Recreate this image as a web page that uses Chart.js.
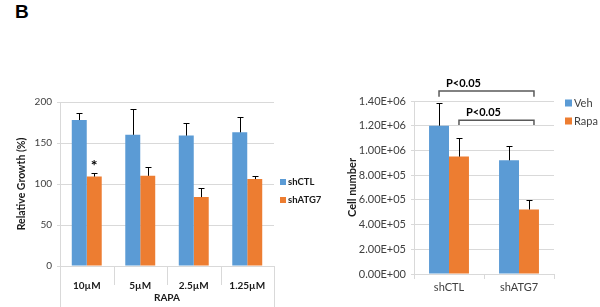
<!DOCTYPE html>
<html>
<head>
<meta charset="utf-8">
<script src="https://cdn.jsdelivr.net/npm/chart.js@4/dist/chart.umd.min.js"></script>
<style>
  html, body { margin: 0; padding: 0; background: #fff; }
  body { width: 600px; height: 307px; position: relative; overflow: hidden; font-family: Lato, sans-serif; }
  #panel-label { position: absolute; left: 15px; top: 1px; font: bold 19px Arial, "Liberation Sans", sans-serif; color: #000; }
  .box { position: absolute; top: 0; height: 307px; }
  #left-box { left: 0; width: 330px; }
  #right-box { left: 300px; width: 300px; }
</style>
</head>
<body>
<div id="panel-label">B</div>
<div class="box" id="left-box"><canvas id="growth-chart" width="330" height="307"></canvas></div>
<div class="box" id="right-box"><canvas id="cell-chart" width="300" height="307"></canvas></div>
<script>
'use strict';

// ---- Panel 1: relative growth under rapamycin ----
const rapaDoses       = ['10µM', '5µM', '2.5µM', '1.25µM'];
const growthSeries    = ['shCTL', 'shATG7'];
const shCTLGrowth     = [178, 160, 159, 163];
const shCTLGrowthErr  = [8, 31, 16, 19];
const shATG7Growth    = [109, 110, 84, 106];
const shATG7GrowthErr = [5, 11, 11, 4];
const growthTicks     = [0, 50, 100, 150, 200];
const growthStars     = [{ series: 1, index: 0, text: '*' }];

// ---- Panel 2: cell number ----
const cellGroups    = ['shCTL', 'shATG7'];
const cellSeries    = ['Veh', 'Rapa'];
const vehCells      = [1200000, 920000];
const vehCellsErr   = [185000, 118000];
const rapaCells     = [950000, 522000];
const rapaCellsErr  = [148000, 75000];
const cellTicks     = [0, 200000, 400000, 600000, 800000, 1000000, 1200000, 1400000];
// brackets: [group, series] at each end, y levels in data units
const cellBrackets = [
  { text: 'P<0.05', from: [0, 0], to: [1, 1], y: 1480000, drop: 45000 },
  { text: 'P<0.05', from: [0, 1], to: [1, 1], y: 1245000, drop: 40000 }
];

const BLUE   = '#5b9bd5';
const ORANGE = '#ed7d31';
const GRID   = '#d9d9d9';
const TEXT   = '#404040';
const DARK   = '#1a1a1a';
const FONT   = 'Lato, "Open Sans", sans-serif';

function sci(v) {
  const parts = v.toExponential(2).split('e');
  const e = parseInt(parts[1], 10);
  const sign = e < 0 ? '-' : '+';
  return parts[0] + 'E' + sign + String(Math.abs(e)).padStart(2, '0');
}

// error bars (upward only) drawn from each dataset's errs array
const errorBars = {
  id: 'errorBars',
  afterDatasetsDraw(chart) {
    const ctx = chart.ctx;
    const y = chart.scales.y;
    ctx.save();
    ctx.strokeStyle = '#000';
    ctx.lineWidth = 1;
    chart.data.datasets.forEach((ds, di) => {
      const meta = chart.getDatasetMeta(di);
      meta.data.forEach((bar, i) => {
        const top = y.getPixelForValue(ds.data[i]);
        const end = y.getPixelForValue(ds.data[i] + ds.errs[i]);
        const x = Math.round(bar.x) + 0.5;
        ctx.beginPath();
        ctx.moveTo(x, top);
        ctx.lineTo(x, Math.round(end) + 0.5);
        ctx.moveTo(x - 3, Math.round(end) + 0.5);
        ctx.lineTo(x + 3, Math.round(end) + 0.5);
        ctx.stroke();
      });
    });
    ctx.restore();
  }
};

// simple square legend
function squareLegend(x0, y0, gap, font, bold, sq) {
  return {
    id: 'squareLegend',
    afterDraw(chart) {
      const ctx = chart.ctx;
      ctx.save();
      ctx.font = (bold ? 'bold ' : '') + font + 'px ' + FONT;
      ctx.textBaseline = 'middle';
      chart.data.datasets.forEach((ds, i) => {
        const y = y0 + i * gap;
        ctx.fillStyle = ds.backgroundColor;
        ctx.fillRect(x0, y - sq / 2, sq, sq);
        ctx.fillStyle = bold ? DARK : TEXT;
        ctx.fillText(ds.label, x0 + sq + 2, y);
      });
      ctx.restore();
    }
  };
}

// ---- Chart 1 ----
const growthCtx = document.getElementById('growth-chart');
new Chart(growthCtx, {
  type: 'bar',
  data: {
    labels: rapaDoses,
    datasets: [
      { label: growthSeries[0], data: shCTLGrowth, errs: shCTLGrowthErr, backgroundColor: BLUE },
      { label: growthSeries[1], data: shATG7Growth, errs: shATG7GrowthErr, backgroundColor: ORANGE }
    ]
  },
  options: {
    responsive: false,
    animation: false,
    devicePixelRatio: 1,
    layout: { padding: { left: 10, top: 102, right: 56, bottom: 0 } },
    datasets: { bar: { barPercentage: 1, categoryPercentage: 0.56 } },
    plugins: { legend: { display: false }, tooltip: { enabled: false } },
    scales: {
      x: {
        grid: { display: false },
        border: { display: true, color: GRID },
        ticks: { color: DARK, padding: 6, font: { family: FONT, size: 10, weight: 'bold' } },
        title: { display: true, text: 'RAPA', color: DARK, padding: { top: 2, bottom: 3 },
                 font: { family: FONT, size: 10, weight: 'bold' } },
        afterFit(s) { s.height = 41; }
      },
      y: {
        min: 0, max: 200,
        afterBuildTicks(s) { s.ticks = growthTicks.map(v => ({ value: v })); },
        grid: { color: GRID, tickLength: 3 },
        border: { color: GRID },
        ticks: { color: TEXT, padding: 5, font: { family: FONT, size: 10 } },
        title: { display: true, text: 'Relative Growth (%)', color: DARK, padding: { top: 5, bottom: 0 },
                 font: { family: FONT, size: 10.5, weight: 'bold' } },
        afterFit(s) { s.width = 50; }
      }
    }
  },
  plugins: [
    errorBars,
    squareLegend(280, 182, 18, 9.5, true, 6),
    {
      id: 'separators',
      afterDraw(chart) {
        const ctx = chart.ctx;
        const x = chart.scales.x;
        const n = rapaDoses.length;
        ctx.save();
        ctx.strokeStyle = GRID;
        ctx.lineWidth = 1;
        for (let i = 0; i <= n; i++) {
          const px = Math.round(x.getPixelForValue(i - 0.5)) + 0.5;
          ctx.beginPath();
          ctx.moveTo(px, x.top);
          ctx.lineTo(px, (i === 0 || i === n) ? chart.height : x.top + 19);
          ctx.stroke();
        }
        // significance marks
        const y = chart.scales.y;
        ctx.fillStyle = '#000';
        ctx.font = 'bold 16px ' + FONT;
        ctx.textAlign = 'center';
        ctx.textBaseline = 'middle';
        growthStars.forEach(m => {
          const ds = chart.data.datasets[m.series];
          const bar = chart.getDatasetMeta(m.series).data[m.index];
          const top = y.getPixelForValue(ds.data[m.index] + ds.errs[m.index]);
          ctx.fillText(m.text, bar.x, top - 7);
        });
        ctx.restore();
      }
    }
  ]
});

// ---- Chart 2 ----
const cellCtx = document.getElementById('cell-chart');
new Chart(cellCtx, {
  type: 'bar',
  data: {
    labels: cellGroups,
    datasets: [
      { label: cellSeries[0], data: vehCells, errs: vehCellsErr, backgroundColor: BLUE },
      { label: cellSeries[1], data: rapaCells, errs: rapaCellsErr, backgroundColor: ORANGE }
    ]
  },
  options: {
    responsive: false,
    animation: false,
    devicePixelRatio: 1,
    layout: { padding: { left: 40, top: 101, right: 46, bottom: 0 } },
    datasets: { bar: { barPercentage: 1, categoryPercentage: 0.57 } },
    plugins: { legend: { display: false }, tooltip: { enabled: false } },
    scales: {
      x: {
        offset: true,
        grid: { offset: true, drawOnChartArea: false, tickLength: 5, color: GRID },
        border: { color: GRID },
        ticks: { color: TEXT, padding: 2, font: { family: FONT, size: 11 } },
        afterFit(s) { s.height = 33; }
      },
      y: {
        min: 0, max: 1400000,
        afterBuildTicks(s) { s.ticks = cellTicks.map(v => ({ value: v })); },
        grid: { color: GRID, tickLength: 3 },
        border: { color: GRID },
        ticks: { color: TEXT, padding: 5, font: { family: FONT, size: 11 }, callback: v => sci(v) },
        title: { display: true, text: 'Cell number', color: DARK, padding: { top: 6, bottom: 0 },
                 font: { family: FONT, size: 11, weight: 'bold' } },
        afterFit(s) { s.width = 74; }
      }
    }
  },
  plugins: [
    errorBars,
    squareLegend(265, 103, 18, 11, false, 7),
    {
      id: 'brackets',
      afterDraw(chart) {
        const ctx = chart.ctx;
        const y = chart.scales.y;
        const barX = (g, s) => chart.getDatasetMeta(s).data[g].x;
        ctx.save();
        ctx.strokeStyle = '#595959';
        ctx.lineWidth = 1.5;
        ctx.fillStyle = '#000';
        ctx.font = 'bold 11px ' + FONT;
        ctx.textAlign = 'left';
        ctx.textBaseline = 'middle';
        cellBrackets.forEach(b => {
          const x1 = barX(b.from[0], b.from[1]);
          const x2 = barX(b.to[0], b.to[1]) + 5;
          const yl = y.getPixelForValue(b.y);
          const yd = y.getPixelForValue(b.y - b.drop);
          ctx.beginPath();
          ctx.moveTo(x1, yd);
          ctx.lineTo(x1, yl);
          ctx.lineTo(x2, yl);
          ctx.lineTo(x2, yd);
          ctx.stroke();
          ctx.fillText(b.text, x1 + 7, yl - 8);
        });
        ctx.restore();
      }
    }
  ]
});
</script>
</body>
</html>
